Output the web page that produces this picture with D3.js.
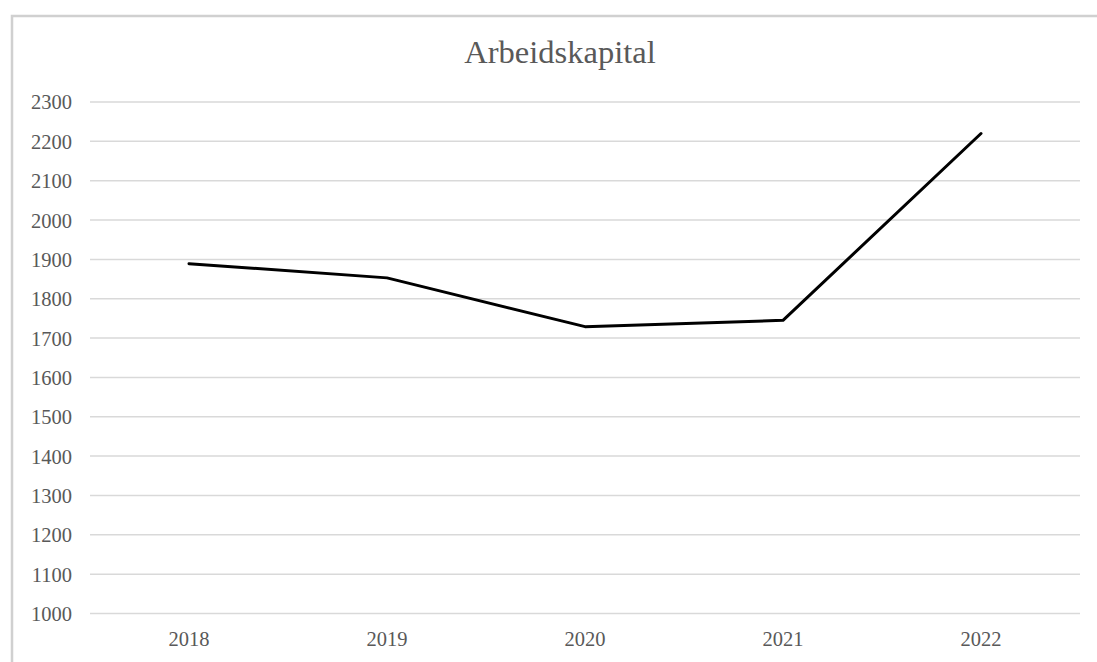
<!DOCTYPE html>
<html>
<head>
<meta charset="utf-8">
<script src="https://cdn.jsdelivr.net/npm/d3@7"></script>
<style>
  html, body { margin: 0; padding: 0; background: #fff; }
  svg { display: block; }
</style>
</head>
<body>
<script>
// Working capital per year
const years = ["2018", "2019", "2020", "2021", "2022"];
const values = [1889, 1853, 1729, 1745, 2220];
const yTicks = [1000, 1100, 1200, 1300, 1400, 1500, 1600, 1700, 1800, 1900, 2000, 2100, 2200, 2300];
const title = "Arbeidskapital";

const W = 1097, H = 662;
const plot = { left: 90, right: 1080, top: 102, bottom: 613.5 };
const font = "'Liberation Serif', 'Times New Roman', serif";
const textColor = "#595959";
const labelSize = 20.5;

const svg = d3.select("body").append("svg").attr("width", W).attr("height", H);

// chart frame (left and top edges visible)
svg.append("path")
  .attr("d", `M12,${H} V16 H${W}`)
  .attr("fill", "none")
  .attr("stroke", "#d0d0d0")
  .attr("stroke-width", 2.5);

const x = d3.scaleBand().domain(years).range([plot.left, plot.right]);
const y = d3.scaleLinear().domain([1000, 2300]).range([plot.bottom, plot.top]);

// horizontal gridlines
svg.append("g").selectAll("line").data(yTicks).join("line")
  .attr("x1", plot.left).attr("x2", plot.right)
  .attr("y1", d => y(d)).attr("y2", d => y(d))
  .attr("stroke", "#d9d9d9").attr("stroke-width", 1.5);

// y axis labels
const yAxis = svg.append("g")
  .attr("transform", `translate(${plot.left - 18},0)`)
  .call(d3.axisLeft(y).tickValues(yTicks).tickSize(0).tickPadding(0).tickFormat(d3.format("d")));
yAxis.select(".domain").remove();
yAxis.selectAll("text")
  .attr("dy", "0.34em")
  .attr("font-family", font).attr("font-size", labelSize).attr("fill", textColor);

// x axis labels
const xAxis = svg.append("g")
  .attr("transform", `translate(0,${plot.bottom})`)
  .call(d3.axisBottom(x).tickSize(0).tickPadding(18));
xAxis.select(".domain").remove();
xAxis.selectAll("text")
  .attr("font-family", font).attr("font-size", labelSize).attr("fill", textColor);

// series line
const line = d3.line()
  .x((d, i) => x(years[i]) + x.bandwidth() / 2)
  .y(d => y(d));
svg.append("path")
  .datum(values)
  .attr("d", line)
  .attr("fill", "none")
  .attr("stroke", "#000")
  .attr("stroke-width", 3)
  .attr("stroke-linejoin", "round")
  .attr("stroke-linecap", "round");

// title
svg.append("text")
  .attr("x", 560)
  .attr("y", 63)
  .attr("text-anchor", "middle")
  .attr("font-family", font)
  .attr("font-size", 32.5)
  .attr("fill", textColor)
  .text(title);
</script>
</body>
</html>
